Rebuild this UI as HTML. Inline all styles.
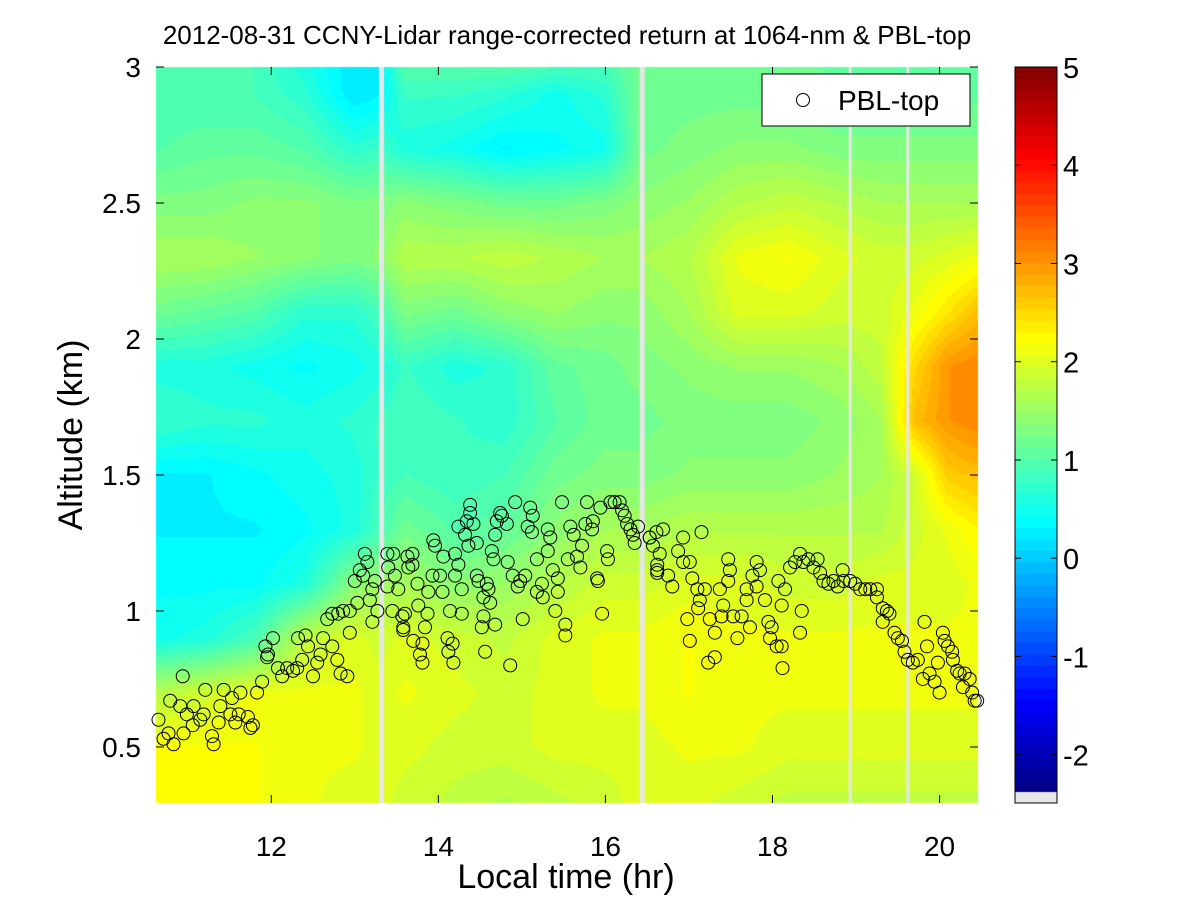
<!DOCTYPE html>
<html><head><meta charset="utf-8"><style>
html,body{margin:0;padding:0;background:#fff;}
#wrap{position:relative;width:1201px;height:901px;overflow:hidden;font-family:"Liberation Sans",sans-serif;}
canvas{position:absolute;left:0;top:0;}
svg{position:absolute;left:0;top:0;}
</style></head><body>
<div id="wrap">
<canvas id="hm" width="1201" height="901"></canvas>
<svg id="sv" width="1201" height="901"></svg>
</div>
<script>
// ---- data ----
const gridTimes=[10.6,11.2,11.8,12.4,13.0,13.3,13.6,14.2,14.8,15.4,16.0,16.4,17.0,17.6,18.2,18.8,19.3,19.7,20.1,20.45];
const gridAlts=[0.3,0.5,0.7,0.9,1.1,1.3,1.5,1.7,1.9,2.1,2.3,2.5,2.7,2.9,3.0];
const gridValues=[
[2.2,2.2,2.2,2.1,2.0,2.0,1.9,1.8,1.7,1.8,1.9,2.0,2.0,1.9,1.8,1.8,1.8,1.8,1.8,1.8],
[2.2,2.2,2.2,2.1,2.1,2.0,2.0,1.9,1.9,2.0,2.0,2.0,2.1,2.1,2.0,2.0,2.0,2.0,2.0,2.0],
[1.7,1.9,2.1,2.1,2.1,2.0,2.1,2.0,1.9,2.0,2.1,2.1,2.2,2.1,2.1,2.1,2.1,2.1,2.1,2.1],
[0.5,0.6,0.9,1.8,2.0,1.9,2.0,1.9,1.8,2.0,2.1,2.1,2.2,2.1,2.1,2.1,2.1,2.1,2.1,2.1],
[0.4,0.4,0.4,0.6,1.4,1.5,1.6,1.4,1.5,1.7,1.9,1.9,2.0,2.0,1.9,1.9,2.0,2.0,2.0,2.1],
[0.3,0.3,0.3,0.4,0.6,0.9,1.2,1.0,1.1,1.4,1.6,1.6,1.7,1.7,1.7,1.7,1.7,1.9,2.1,2.3],
[0.3,0.3,0.4,0.5,0.6,0.8,0.9,0.8,0.9,1.2,1.3,1.3,1.4,1.4,1.4,1.5,1.6,1.9,2.6,2.7],
[0.8,0.7,0.7,0.6,0.7,0.8,0.9,0.8,0.7,1.0,1.2,1.2,1.3,1.3,1.3,1.4,1.6,2.7,3.0,3.1],
[0.6,0.6,0.5,0.4,0.5,0.6,0.8,0.6,0.7,1.1,1.2,1.3,1.4,1.5,1.5,1.6,1.8,2.5,3.0,3.1],
[1.2,1.1,1.0,0.7,0.7,0.9,1.3,1.2,1.4,1.5,1.4,1.4,1.6,2.0,2.0,1.9,1.9,2.1,2.4,2.7],
[1.6,1.6,1.5,1.4,1.3,1.4,1.7,1.7,1.8,1.7,1.6,1.6,1.7,2.1,2.2,2.0,1.9,1.9,2.0,2.1],
[1.3,1.3,1.4,1.4,1.3,1.3,1.4,1.3,1.2,1.2,1.3,1.4,1.5,1.7,1.8,1.7,1.6,1.6,1.6,1.6],
[1.0,1.1,1.1,1.0,0.7,0.8,0.6,0.5,0.3,0.4,0.5,1.2,1.3,1.4,1.4,1.3,1.3,1.3,1.3,1.3],
[0.9,0.9,0.9,0.7,0.2,0.3,0.8,0.8,0.7,0.5,0.7,1.2,1.2,1.2,1.2,1.1,1.1,1.1,1.1,1.1],
[0.9,0.9,0.9,0.6,0.2,0.3,1.0,1.0,1.0,0.9,0.9,1.2,1.2,1.2,1.2,1.1,1.1,1.1,1.1,1.1]];
const gapTimes=[13.32,16.44,18.93,19.62];
const xTicks=[12,14,16,18,20];
const yTicks=[0.5,1,1.5,2,2.5,3];
const yTickLabels=["0.5","1","1.5","2","2.5","3"];
const cbTicks=[-2,-1,0,1,2,3,4,5];
const pblTimes=[10.65,10.71,10.77,10.83,10.79,10.94,10.91,10.99,10.95,11.07,11.06,11.21,11.19,11.15,11.29,11.31,11.37,11.43,11.39,11.51,11.53,11.63,11.61,11.57,11.72,11.78,11.75,11.83,11.89,11.93,11.96,12.02,11.95,12.08,12.13,12.19,12.26,12.31,12.37,12.32,12.41,12.44,12.50,12.55,12.62,12.59,12.67,12.73,12.79,12.83,12.91,12.73,12.80,12.86,12.94,12.94,13.03,13.00,13.06,13.12,13.15,13.10,13.21,13.18,13.24,13.27,13.21,13.39,13.46,13.40,13.39,13.45,13.48,13.52,13.57,13.58,13.63,13.64,
13.69,13.69,13.60,13.58,13.70,13.76,13.75,13.78,13.81,13.81,13.87,13.84,13.88,13.93,13.94,13.96,14.02,14.05,14.06,14.11,14.12,14.14,14.17,14.18,14.20,14.24,14.20,14.24,14.28,14.28,14.32,14.36,14.34,14.38,14.38,14.42,14.46,14.46,14.48,14.52,14.54,14.54,14.58,14.60,14.62,14.56,14.64,14.66,14.68,14.68,14.70,14.74,14.76,14.83,14.82,14.86,14.89,14.92,14.95,14.98,15.01,15.04,15.07,15.10,15.12,15.13,15.18,15.18,15.24,15.25,15.31,15.31,15.34,15.37,15.40,15.43,15.43,15.48,15.52,15.52,15.55,15.58,15.62,15.66,15.70,15.72,15.76,15.78,15.84,15.85,15.90,15.91,15.96,15.94,16.02,16.03,16.06,16.11,16.17,16.20,16.23,16.26,16.30,16.33,16.35,16.39,16.53,16.57,16.62,16.62,
16.53,16.61,16.69,16.65,16.62,16.75,16.80,16.87,16.93,16.93,17.01,17.04,17.10,17.15,17.13,17.19,16.98,17.01,17.11,17.25,17.23,17.31,17.31,17.37,17.41,17.39,17.47,17.47,17.49,17.53,17.58,17.63,17.69,17.69,17.73,17.76,17.81,17.85,17.81,17.91,17.95,17.97,17.99,18.05,18.11,18.12,18.07,18.11,18.15,18.21,18.27,18.33,18.35,18.33,18.37,18.43,18.49,18.54,18.57,18.61,18.67,18.73,18.78,18.84,18.85,18.93,18.99,19.05,19.11,19.17,19.25,19.25,19.32,19.37,19.40,19.32,19.46,19.50,19.55,19.58,19.62,19.68,19.74,19.82,19.85,19.80,19.88,19.94,20.00,19.98,20.04,20.06,20.10,20.15,20.16,20.21,20.24,20.30,20.36,20.28,20.39,20.42,20.45];
const pblAlts=[0.60,0.53,0.55,0.51,0.67,0.76,0.65,0.62,0.55,0.65,0.58,0.71,0.62,0.60,0.54,0.51,0.59,0.71,0.65,0.62,0.68,0.70,0.62,0.59,0.61,0.58,0.57,0.70,0.74,0.87,0.84,0.90,0.83,0.79,0.76,0.79,0.78,0.79,0.82,0.90,0.91,0.87,0.76,0.81,0.90,0.84,0.97,0.87,0.82,0.77,0.76,0.99,0.99,1.00,1.00,0.92,1.03,1.11,1.15,1.21,1.18,1.13,1.08,1.04,1.11,1.00,0.96,1.21,1.21,1.16,1.09,1.00,1.13,1.08,0.98,0.93,1.20,1.16,
1.21,1.17,0.99,0.94,0.89,1.02,1.10,0.84,0.81,0.88,0.99,0.94,1.07,1.13,1.26,1.24,1.13,1.07,1.20,0.90,0.85,1.00,0.88,0.81,1.21,1.17,1.13,1.31,1.08,0.99,1.28,1.24,1.33,1.39,1.36,1.32,1.13,1.25,1.11,0.94,1.05,0.98,1.10,1.08,1.03,0.85,1.22,1.19,1.28,0.95,1.33,1.36,1.35,1.18,1.32,0.80,1.13,1.40,1.09,1.11,0.97,1.13,1.31,1.38,1.29,1.35,1.19,1.07,1.10,1.05,1.30,1.22,1.27,1.15,1.00,1.12,1.07,1.40,0.95,0.91,1.19,1.31,1.28,1.20,1.16,1.24,1.32,1.40,1.30,1.33,1.12,1.11,0.99,1.38,1.22,1.19,1.40,1.40,1.40,1.37,1.35,1.32,1.30,1.28,1.25,1.31,1.27,1.24,1.17,1.14,
1.27,1.29,1.30,1.21,1.15,1.13,1.09,1.22,1.27,1.18,1.18,1.12,1.08,1.29,1.04,1.08,0.97,0.89,1.01,0.97,0.81,0.83,0.92,1.08,1.02,0.98,1.19,1.11,1.15,0.98,0.90,0.98,1.08,1.04,0.94,1.13,1.18,1.15,1.09,1.04,0.96,0.90,0.94,0.87,0.87,0.79,1.11,1.02,1.08,1.16,1.18,1.21,1.00,0.92,1.18,1.19,1.16,1.19,1.14,1.11,1.10,1.11,1.09,1.15,1.11,1.11,1.10,1.08,1.08,1.08,1.08,1.05,1.01,1.00,0.99,0.96,0.92,0.90,0.89,0.85,0.82,0.81,0.82,0.96,0.87,0.75,0.77,0.74,0.70,0.81,0.92,0.89,0.87,0.85,0.82,0.78,0.77,0.77,0.75,0.72,0.70,0.67,0.67];

// ---- axes ----
const PL=156,PR=978,PT=67,PB=803;
const T0=10.62,T1=20.46,A0=0.294,A1=3.0;
function xs(t){return PL+(t-T0)/(T1-T0)*(PR-PL);}
function ys(a){return PB-(a-A0)/(A1-A0)*(PB-PT);}
const CBL=1015,CBR=1057,CBT=67,CBB=803,CBCOLB=792,V0=-2.38,V1=5;
function cy(v){return CBT+(V1-v)/(V1-V0)*(CBCOLB-CBT);}
function jet(f){const c=x=>Math.max(0,Math.min(1,x));return [c(1.5-Math.abs(4*f-3)),c(1.5-Math.abs(4*f-2)),c(1.5-Math.abs(4*f-1))].map(x=>Math.round(x*255));}
const NB=63;
function colorOf(v){let f=(v-V0)/(V1-V0);f=Math.max(0,Math.min(0.9999,f));const b=Math.floor(f*NB);return jet((b+0.5)/NB);}
function interp(arr,x){let i=0;while(i<arr.length-2&&x>arr[i+1])i++;let f=(x-arr[i])/(arr[i+1]-arr[i]);return [i,Math.max(0,Math.min(1,f))];}
function field(t,a){const [i,fx]=interp(gridTimes,t);const [j,fy]=interp(gridAlts,a);
 const v00=gridValues[j][i],v01=gridValues[j][i+1],v10=gridValues[j+1][i],v11=gridValues[j+1][i+1];
 return (v00*(1-fx)+v01*fx)*(1-fy)+(v10*(1-fx)+v11*fx)*fy;}

const ctx=document.getElementById('hm').getContext('2d');
const step=2;
for(let px=PL;px<PR;px+=step){const t=T0+(px+1-PL)/(PR-PL)*(T1-T0);
 for(let py=PT;py<PB;py+=step){const a=A0+(PB-py-1)/(PB-PT)*(A1-A0);
  const c=colorOf(field(t,a));ctx.fillStyle=`rgb(${c[0]},${c[1]},${c[2]})`;ctx.fillRect(px,py,step,step);}}
ctx.fillStyle='#e6e6e6';
gapTimes.forEach((g,k)=>{const w=k<2?5:3;ctx.fillRect(xs(g)-w/2,PT,w,PB-PT);});
// colorbar
for(let b=0;b<NB;b++){const v1=V0+(b+1)/NB*(V1-V0),v0=V0+b/NB*(V1-V0);const c=jet((b+0.5)/NB);
 ctx.fillStyle=`rgb(${c[0]},${c[1]},${c[2]})`;ctx.fillRect(CBL,cy(v1),CBR-CBL,cy(v0)-cy(v1)+0.6);}
ctx.fillStyle='#e6e6e6';ctx.fillRect(CBL,CBCOLB,CBR-CBL,CBB-CBCOLB);

const NS='http://www.w3.org/2000/svg';const sv=document.getElementById('sv');
function mk(tag,attrs,parent){const e=document.createElementNS(NS,tag);for(const k in attrs)e.setAttribute(k,attrs[k]);(parent||sv).appendChild(e);return e;}
function txt(s,x,y,size,anchor,parent){const e=mk('text',{x:x,y:y,'font-size':size,'text-anchor':anchor||'middle','font-family':'Liberation Sans, sans-serif',fill:'#000'},parent);e.textContent=s;return e;}

const title=txt('2012-08-31 CCNY-Lidar range-corrected return at 1064-nm & PBL-top',567,44,26);


const xl=txt('Local time (hr)',566,888,34);


const yl=txt('Altitude (km)',0,0,34);
yl.setAttribute('transform','translate(82,435) rotate(-90)');



const ax=mk('g',{stroke:'#000','stroke-width':1});


xTicks.forEach(t=>{const x=xs(t);mk('line',{x1:x,x2:x,y1:PB,y2:PB-8},ax);mk('line',{x1:x,x2:x,y1:PT,y2:PT+8},ax);
 const l=txt(String(t),x,856,28);l.setAttribute('stroke','none');
 
 });
yTicks.forEach((a,i)=>{const y=ys(a);mk('line',{x1:PL,x2:PL+8,y1:y,y2:y},ax);mk('line',{x1:PR,x2:PR-8,y1:y,y2:y},ax);
 const l=txt(yTickLabels[i],141,y+10,28,'end');
 
 });
cbTicks.forEach(v=>{const y=cy(v);mk('line',{x1:CBL,x2:CBL+6,y1:y,y2:y},ax);mk('line',{x1:CBR,x2:CBR-6,y1:y,y2:y},ax);
 const l=txt(String(v),1063,y+11,29,'start');
 
 });
const cbb=mk('rect',{x:CBL,y:CBT,width:CBR-CBL,height:CBB-CBT,fill:'none',stroke:'#000'});



const pg=mk('g',{fill:'none',stroke:'#000','stroke-width':1});


pblTimes.forEach((t,i)=>{const c=mk('circle',{cx:xs(t),cy:ys(pblAlts[i]),r:6.5},pg);
 
 });

const lg=mk('g',{});


mk('rect',{x:762,y:74,width:208,height:52,fill:'#fff',stroke:'#000'},lg);
const lm=mk('circle',{cx:803,cy:100,r:6.5,fill:'none',stroke:'#000'},lg);


const lt=txt('PBL-top',838,110,28,'start',lg);


</script>
</body></html>
